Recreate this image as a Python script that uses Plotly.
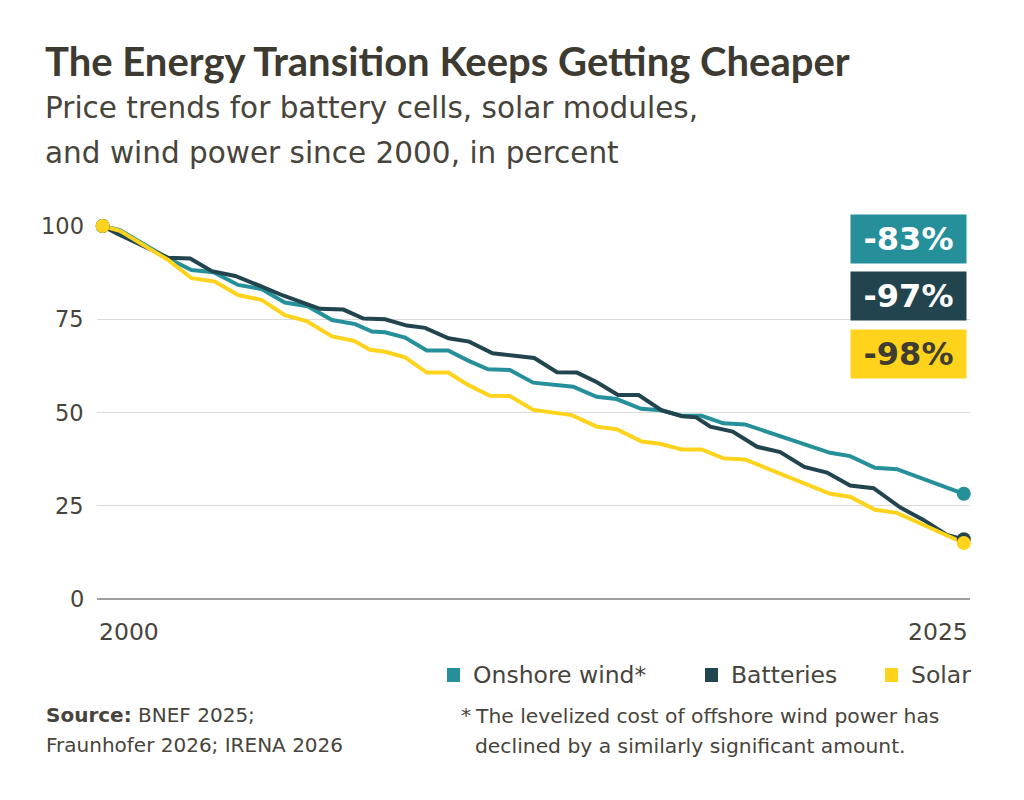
import plotly.graph_objects as go

# price index, 2000 = 100
years_wind = [2000.0, 2000.50, 2001.90, 2002.58, 2003.22, 2003.93, 2004.61, 2005.29, 2005.95,
              2006.66, 2007.33, 2007.82, 2008.20, 2008.78, 2009.41, 2010.03, 2010.61, 2011.19,
              2011.82, 2012.50, 2013.66, 2014.34, 2014.92, 2015.63, 2016.21, 2016.81, 2017.39,
              2018.02, 2018.65, 2021.12, 2021.70, 2022.42, 2023.06, 2025.0]
wind = [100, 98.9, 91.3, 88.2, 87.6, 84.2, 83.1, 79.5, 78.5,
        74.8, 73.7, 71.7, 71.5, 70.1, 66.6, 66.6, 63.9, 61.6,
        61.4, 58.0, 56.9, 54.2, 53.6, 51.0, 50.6, 49.1, 49.1,
        47.1, 46.8, 39.2, 38.3, 35.2, 34.8, 28.2]

years_batt = [2000.0, 2000.41, 2001.90, 2002.54, 2003.17, 2003.85, 2004.55, 2005.25, 2006.31,
              2006.99, 2007.57, 2008.20, 2008.83, 2009.36, 2010.04, 2010.64, 2011.32, 2011.93,
              2012.53, 2013.19, 2013.77, 2014.35, 2014.96, 2015.56, 2016.22, 2016.82, 2017.23,
              2017.64, 2018.29, 2019.00, 2019.67, 2020.37, 2021.03, 2021.70, 2022.38, 2023.16,
              2023.83, 2024.51, 2025.0]
batteries = [100, 98.0, 91.5, 91.3, 87.9, 86.6, 84.0, 81.3, 77.8,
             77.6, 75.2, 75.0, 73.3, 72.7, 69.9, 69.0, 65.9, 65.2,
             64.6, 60.8, 60.7, 58.1, 54.7, 54.7, 50.6, 49.0, 48.7,
             46.2, 44.9, 40.8, 39.4, 35.4, 33.9, 30.4, 29.7, 24.5,
             21.2, 17.2, 16.0]

years_solar = [2000.0, 2000.50, 2001.90, 2002.58, 2003.26, 2003.93, 2004.61, 2005.29, 2005.92,
               2006.66, 2007.30, 2007.76, 2008.20, 2008.78, 2009.41, 2010.03, 2010.61, 2011.24,
               2011.82, 2012.50, 2013.62, 2014.34, 2014.92, 2015.65, 2016.18, 2016.81, 2017.39,
               2018.02, 2018.65, 2021.12, 2021.70, 2022.42, 2023.06, 2025.0]
solar = [100, 98.7, 90.9, 86.0, 85.1, 81.5, 80.2, 76.1, 74.5,
         70.4, 69.2, 66.8, 66.3, 64.8, 60.7, 60.7, 57.4, 54.5,
         54.4, 50.7, 49.3, 46.2, 45.5, 42.2, 41.6, 40.1, 40.1,
         37.7, 37.4, 28.2, 27.4, 23.9, 23.1, 15.0]

series_names = ["Onshore wind*", "Batteries", "Solar"]
changes = ["-83%", "-97%", "-98%"]
y_ticks = [0, 25, 50, 75, 100]
x_tick_labels = ["2000", "2025"]

colors = ["#25909A", "#22444F", "#FFD31C"]
badge_text = ["white", "white", "#3F3C33"]
TEXT = "#47443B"
FONT = "DejaVu Sans"

W, H = 1024, 800
OFF = 8  # page margin the browser puts round the figure
L, R, T, B = 89, 62, 218, 209
PW, PH = W - L - R, H - T - B


# helpers: screen pixel -> paper coordinates
def px(x):
    return (x - OFF - L) / PW


def py(y):
    return (H - B - (y - OFF)) / PH


fig = go.Figure()
all_series = [(years_wind, wind), (years_batt, batteries), (years_solar, solar)]
for (xs, ys), name, c in zip(all_series, series_names, colors):
    fig.add_trace(go.Scatter(x=xs, y=ys, mode="lines", name=name,
                             line=dict(color=c, width=4), showlegend=False,
                             cliponaxis=False, hoverinfo="skip"))
for (xs, ys), name, c in zip(all_series, series_names, colors):
    fig.add_trace(go.Scatter(x=[xs[0], xs[-1]], y=[ys[0], ys[-1]], mode="markers",
                             marker=dict(color=c, size=14), showlegend=False,
                             cliponaxis=False, hoverinfo="skip"))

ann = []
# title block
ann.append(dict(text="<b>The Energy Transition Keeps Getting Cheaper</b>", x=px(43), y=py(61),
                font=dict(family="Lato", size=40, color="#3D3A31")))
ann.append(dict(text="Price trends for battery cells, solar modules,", x=px(43), y=py(108),
                font=dict(size=29.5, color=TEXT)))
ann.append(dict(text="and wind power since 2000, in percent", x=px(43), y=py(153),
                font=dict(size=29.5, color=TEXT)))

# y tick labels (right-aligned left of the plot)
for v in y_ticks:
    ann.append(dict(text=str(v), x=px(86), xanchor="right", yref="y", y=v,
                    font=dict(size=22.5, color=TEXT)))

# x tick labels
ann.append(dict(text=x_tick_labels[0], x=0, y=py(632), font=dict(size=23.5, color=TEXT)))
ann.append(dict(text=x_tick_labels[1], x=1, xanchor="right", y=py(632), font=dict(size=23.5, color=TEXT)))

# change badges
badge_y = [238.5, 296, 354]
for lab, c, tc, by in zip(changes, colors, badge_text, badge_y):
    ann.append(dict(text="<b>" + lab + "</b>", x=px(967), xanchor="right", y=py(by),
                    width=115, height=48, bgcolor=c, borderpad=0, align="center",
                    font=dict(size=32, color=tc)))

# legend
shapes = []
legend_left = [447, 705, 885]
for lab, c, lx in zip(series_names, colors, legend_left):
    shapes.append(dict(type="rect", xref="paper", yref="paper", x0=px(lx), x1=px(lx + 13),
                       y0=py(682), y1=py(668), fillcolor=c, line=dict(width=0)))
    ann.append(dict(text=lab, x=px(lx + 24), y=py(675), font=dict(size=23.5, color=TEXT)))

# source and footnote
ann.append(dict(text="<b>Source:</b> BNEF 2025;", x=px(44), y=py(715), font=dict(size=20, color=TEXT)))
ann.append(dict(text="Fraunhofer 2026; IRENA 2026", x=px(44), y=py(745), font=dict(size=20, color=TEXT)))
ann.append(dict(text="*", x=px(459), y=py(715), font=dict(size=20, color=TEXT)))
ann.append(dict(text="The levelized cost of offshore wind power has", x=px(473), y=py(716),
                font=dict(size=20.3, color=TEXT)))
ann.append(dict(text="declined by a similarly significant amount.", x=px(473), y=py(746),
                font=dict(size=20.3, color=TEXT)))

for a in ann:
    a.setdefault("xref", "paper")
    a.setdefault("yref", "paper")
    a.setdefault("xanchor", "left")
    a.setdefault("yanchor", "middle")
    a.setdefault("showarrow", False)
    a["font"].setdefault("family", FONT)

fig.update_layout(
    width=W, height=H,
    margin=dict(l=L, r=R, t=T, b=B, pad=0),
    paper_bgcolor="white", plot_bgcolor="white",
    font=dict(family=FONT, color=TEXT),
    xaxis=dict(range=[1999.835, 2025.18], showgrid=False, zeroline=False,
               showticklabels=False, showline=False, fixedrange=True),
    yaxis=dict(range=[0, 100], tickvals=y_ticks, showgrid=True, gridcolor="#DADADA",
               gridwidth=1, zeroline=True, zerolinecolor="#9E9E9E", zerolinewidth=1.5,
               showticklabels=False, showline=False, fixedrange=True),
    annotations=ann,
    shapes=shapes,
    showlegend=False,
)

fig.write_html("out.html")
